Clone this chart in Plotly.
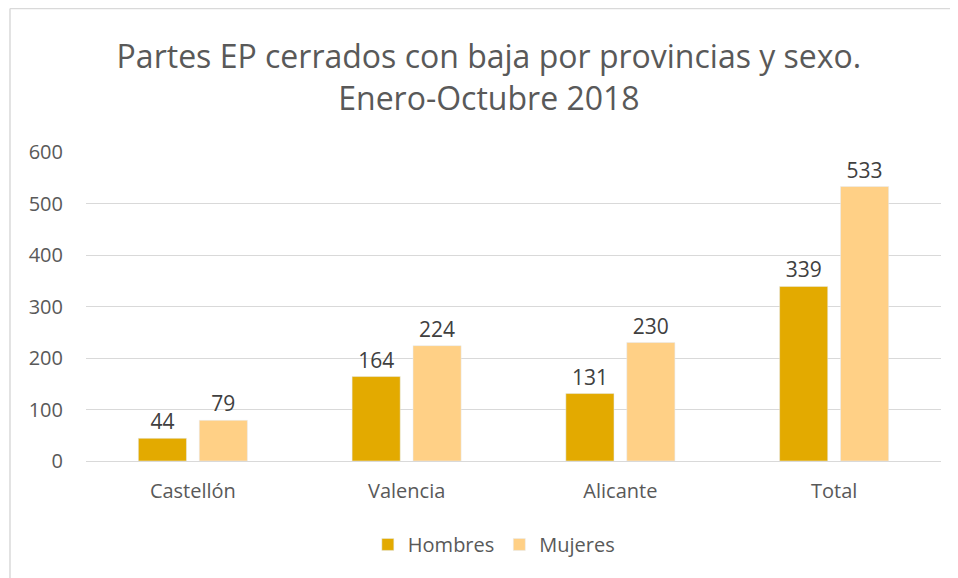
import plotly.graph_objects as go

categories = ["Castellón", "Valencia", "Alicante", "Total"]
hombres = [44, 164, 131, 339]
mujeres = [79, 224, 230, 533]
title_text = "Partes EP cerrados con baja por provincias y sexo.<br>Enero-Octubre 2018"

FONT = "Open Sans"
fig = go.Figure()
fig.add_trace(go.Bar(name="Hombres", x=categories, y=hombres, marker_color="#E3AA00",
                     text=hombres, textposition="outside",
                     textfont=dict(size=21, color="#404040", family=FONT), cliponaxis=False))
fig.add_trace(go.Bar(name="Mujeres", x=categories, y=mujeres, marker_color="#FFD086",
                     text=mujeres, textposition="outside",
                     textfont=dict(size=21, color="#404040", family=FONT), cliponaxis=False))

fig.update_layout(
    width=958, height=578,
    margin=dict(l=78, r=25, t=144, b=125),
    paper_bgcolor="white", plot_bgcolor="white",
    font=dict(family=FONT, color="#595959"),
    title=dict(text=title_text, x=0.502, xref="container", xanchor="center",
               y=0.896, yref="container", yanchor="middle",
               font=dict(size=32, color="#595959", family=FONT)),
    barmode="group", bargap=0.43, bargroupgap=0.21,
    showlegend=True,
    legend=dict(orientation="h", x=0.477, xanchor="center", y=-0.27, yanchor="middle",
                font=dict(size=20, color="#595959", family=FONT)),
    yaxis=dict(range=[0, 600], dtick=100, showgrid=True, gridcolor="#D9D9D9", gridwidth=1,
               zeroline=False, tickfont=dict(size=20, color="#595959"), ticks="",
               ticklabelstandoff=22),
    xaxis=dict(showline=True, linecolor="#D9D9D9", linewidth=1,
               tickfont=dict(size=20, color="#595959"), ticks="",
               ticklabelstandoff=12),
    shapes=[
        dict(type="line", xref="paper", yref="paper", x0=-0.0889, x1=1.05, y0=1.4645, y1=1.4645,
             line=dict(color="#D9D9D9", width=1.5)),
        dict(type="line", xref="paper", yref="paper", x0=-0.0889, x1=-0.0889, y0=1.4645, y1=-0.45,
             line=dict(color="#D9D9D9", width=1.5)),
    ],
)
fig.write_html("out.html")
